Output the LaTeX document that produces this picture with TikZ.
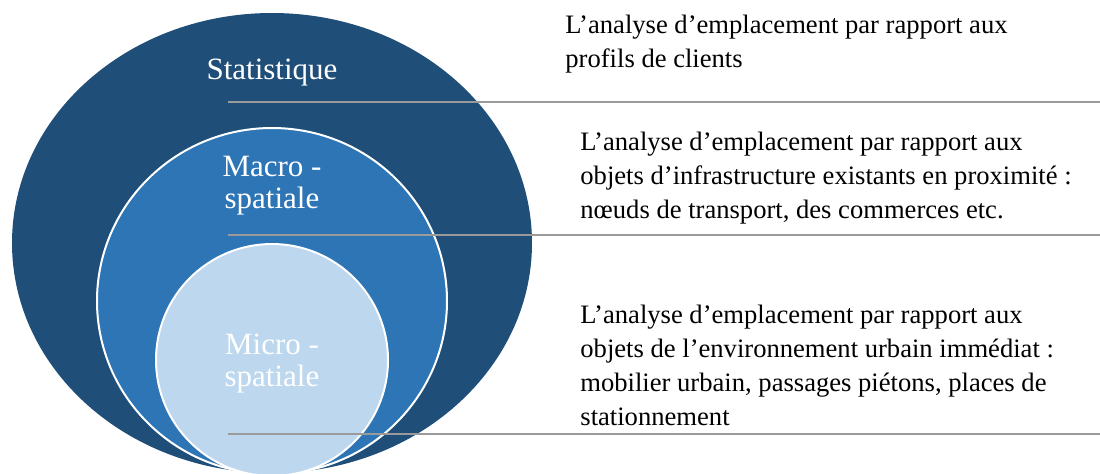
\documentclass[tikz,border=0pt]{standalone}
\usepackage{fontspec}
\setmainfont{Liberation Serif}
\usetikzlibrary{shapes.geometric}

\definecolor{statblue}{HTML}{1F4E79}
\definecolor{macroblue}{HTML}{2E75B6}
\definecolor{microblue}{HTML}{BDD7EE}
\definecolor{rulegray}{HTML}{9A9A9A}
\newcommand\ringfont{\fontsize{15.5}{16}\selectfont}
\newcommand\notefont{\fontsize{13.3}{17}\selectfont}

\begin{document}
\begin{tikzpicture}[x=0.5pt,y=-0.5pt,
    ring/.style={ellipse,inner sep=0pt,draw=white,line width=1pt},
    ring label/.style={font=\ringfont,text=white,align=center,inner sep=0pt,anchor=base},
    note/.style={font=\notefont,align=left,inner sep=0pt,anchor=base west},
    rule/.style={draw=rulegray,line width=0.75pt}]
    \useasboundingbox (0,0) rectangle (1100,473);
    \clip (0,0) rectangle (1100,473);

    % nested levels
    \node[ring, draw=none, fill=statblue, minimum width=260pt, minimum height=230pt] (stat) at (272,243) {};
    \node[ring, fill=macroblue, minimum width=175pt, minimum height=173pt] (macro) at (272,301) {};
    \node[ring, fill=microblue, minimum width=116pt, minimum height=116pt] (micro) at (272,360) {};

    % base = last line
    \node[ring label] (statlbl) at (272,79) {Statistique};
    \node[ring label] (macrolbl) at (272,208) {Macro -\\spatiale};
    \node[ring label] (microlbl) at (272,386) {Micro -\\spatiale};

    % separators
    \coordinate (r1a) at (228,102);
    \coordinate (r1b) at (1100,102);
    \coordinate (r2a) at (228,235);
    \coordinate (r2b) at (1100,235);
    \coordinate (r3a) at (228,434);
    \coordinate (r3b) at (1100,434);
    \path[rule]
        (r1a) edge (r1b)
        (r2a) edge (r2b)
        (r3a) edge (r3b)
        ;

    % descriptions
    \node[note] (statnote) at (565,67) {L’analyse d’emplacement par rapport aux\\profils de clients};
    \node[note] (macronote) at (580,218) {L’analyse d’emplacement par rapport aux\\objets d’infrastructure existants en proximité :\\nœuds de transport, des commerces etc.};
    \node[note] (micronote) at (580,425) {L’analyse d’emplacement par rapport aux\\objets de l’environnement urbain immédiat :\\mobilier urbain, passages piétons, places de\\stationnement};
\end{tikzpicture}
\end{document}
